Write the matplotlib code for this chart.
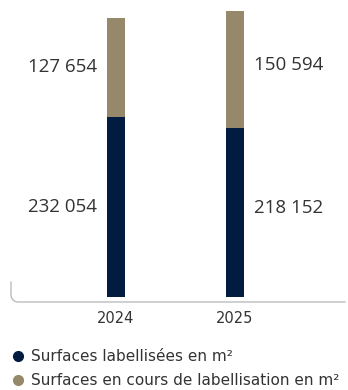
import matplotlib
matplotlib.use("Agg")
import matplotlib.pyplot as plt
from matplotlib.lines import Line2D
import numpy as np

years = ["2024", "2025"]
labelled = [232054, 218152]
in_progress = [127654, 150594]
series_names = ["Surfaces labellisées en m²", "Surfaces en cours de labellisation en m²"]

NAVY = "#021b41"
TAN = "#96896b"
TXT = "#333333"
plt.rcParams["font.family"] = ["Open Sans", "DejaVu Sans"]

W, H = 348, 390
fig = plt.figure(figsize=(W / 100, H / 100), dpi=100)

def fx(px):
    return px / W

def fy(py):
    return 1 - py / H

# axes region in pixels: x 11..345, y 5..302
ax = fig.add_axes([fx(11), fy(302), (345 - 11) / W, (302 - 5) / H])
x = np.arange(len(years))
bw = 0.151
ax.bar(x, labelled, width=bw, color=NAVY, zorder=2)
ax.bar(x, in_progress, width=bw, bottom=labelled, color=TAN, zorder=2)
ax.set_xlim(-0.882, 1.924)
ax.set_ylim(-6445, 376400)
ax.axis("off")

fmt = lambda v: f"{v:,}".replace(",", " ")
for i in range(len(years)):
    mids = [labelled[i] / 2, labelled[i] + in_progress[i] / 2]
    vals = [labelled[i], in_progress[i]]
    for m, v in zip(mids, vals):
        if i == 0:
            ax.annotate(fmt(v), (x[i] - bw / 2, m), xytext=(-10, 0), textcoords="offset pixels",
                        ha="right", va="center", fontsize=13.5, color=TXT)
        else:
            ax.annotate(fmt(v), (x[i] + bw / 2, m), xytext=(10, 4), textcoords="offset pixels",
                        ha="left", va="center", fontsize=13.5, color=TXT)
    ax.annotate(years[i], (x[i], 0), xytext=(0, -21), textcoords="offset pixels",
                ha="center", va="center", fontsize=10.5, color=TXT, annotation_clip=False,
                family="DejaVu Sans")

# rounded axis frame (left + bottom)
r = 7
pts = [(11, 282), (11, 302 - r)]
for t in np.linspace(np.pi, 1.5 * np.pi, 12):
    pts.append((11 + r + r * np.cos(t), 302 - r - r * np.sin(t)))
pts.append((345, 302))
fig.add_artist(Line2D([fx(p[0]) for p in pts], [fy(p[1]) for p in pts],
                      color="#b5b5b5", lw=0.9, transform=fig.transFigure))

handles = [Line2D([], [], marker="o", ls="", color=NAVY, markersize=7),
           Line2D([], [], marker="o", ls="", color=TAN, markersize=7)]
leg = fig.legend(handles, series_names, loc="upper left", bbox_to_anchor=(fx(13), fy(349)),
                 frameon=False, handlelength=0.7, handletextpad=0.45,
                 labelspacing=0.62, borderaxespad=0, borderpad=0,
                 prop={"family": "DejaVu Sans", "size": 11})
for t in leg.get_texts():
    t.set_color(TXT)

fig.savefig("out.png", dpi=100)
